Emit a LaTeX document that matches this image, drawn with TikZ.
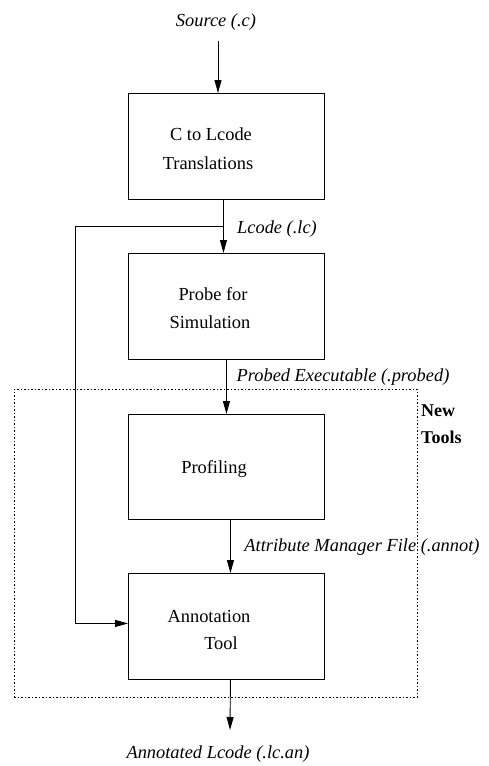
\documentclass[tikz,border=0pt]{standalone}
\usepackage{fontspec}
\setmainfont{Liberation Serif}
\usetikzlibrary{arrows.meta}
\begin{document}
\begin{tikzpicture}[x=1pt,y=-1pt,
  box/.style={draw, line width=0.9pt, minimum width=196pt, minimum height=106pt, inner sep=0pt, anchor=north west},
  txt/.style={font=\fontsize{18.4}{28}\selectfont, inner sep=0pt},
  lbl/.style={font=\fontsize{18.4}{28}\selectfont\itshape, inner sep=0pt},
  arr/.style={line width=0.9pt, -{Triangle[length=13pt,width=7pt]}},
  grpbox/.style={draw, line width=0.9pt, dash pattern=on 1.5pt off 2pt, inner sep=0pt, anchor=north west, minimum width=403pt, minimum height=308pt}]
\useasboundingbox (0,0) rectangle (488,766);

% group
\node[grpbox] (grp) at (14,389) {};
\node[font=\fontsize{18}{27}\selectfont\bfseries, align=left, anchor=west, inner sep=0pt] (newtools) at (421,424.5) {New\\Tools};

% boxes
\node[box] (b1) at (128,93) {};
\node[box] (b2) at (128,253) {};
\node[box, minimum height=105pt] (b3) at (128,414) {};
\node[box] (b4) at (128,573) {};

% box texts
\node[txt] (t1a) at (211,134) {C to Lcode};
\node[txt] (t1b) at (208,163) {Translations};
\node[txt] (t2a) at (213,294) {Probe for};
\node[txt] (t2b) at (210,322) {Simulation};
\node[txt] (t3) at (214,469) {Profiling};
\node[txt] (t4a) at (209,616) {Annotation};
\node[txt] (t4b) at (221,643) {Tool};

% labels
\node[lbl] (src) at (216,22) {Source (.c)};
\node[lbl] (llc) at (277,229) {Lcode (.lc)};
\node[lbl] (lpr) at (343,377) {Probed Executable (.probed)};
\node[lbl] (lat) at (362,547) {Attribute Manager File (.annot)};
\node[lbl] (lan) at (218,754) {Annotated Lcode (.lc.an)};

% connectors
\coordinate (srcend) at (218,41);
\draw[arr] (srcend) -- (srcend |- b1.north);
\draw[arr] ([xshift=-3pt]b1.south) -- ([xshift=-3pt]b2.north);
\coordinate (br) at (223,226);
\coordinate (corner) at (75,226);
\draw[arr, line width=0.9pt] (br) -- (corner) |- ([yshift=3pt]b4.west);
\draw[arr] (b2.south) -- (b3.north);
\draw[arr] ([xshift=4pt]b3.south) -- ([xshift=4pt]b4.north);
\coordinate (outend) at (230,730);
\draw[arr] ([xshift=4pt]b4.south) -- (outend);
\end{tikzpicture}
\end{document}
